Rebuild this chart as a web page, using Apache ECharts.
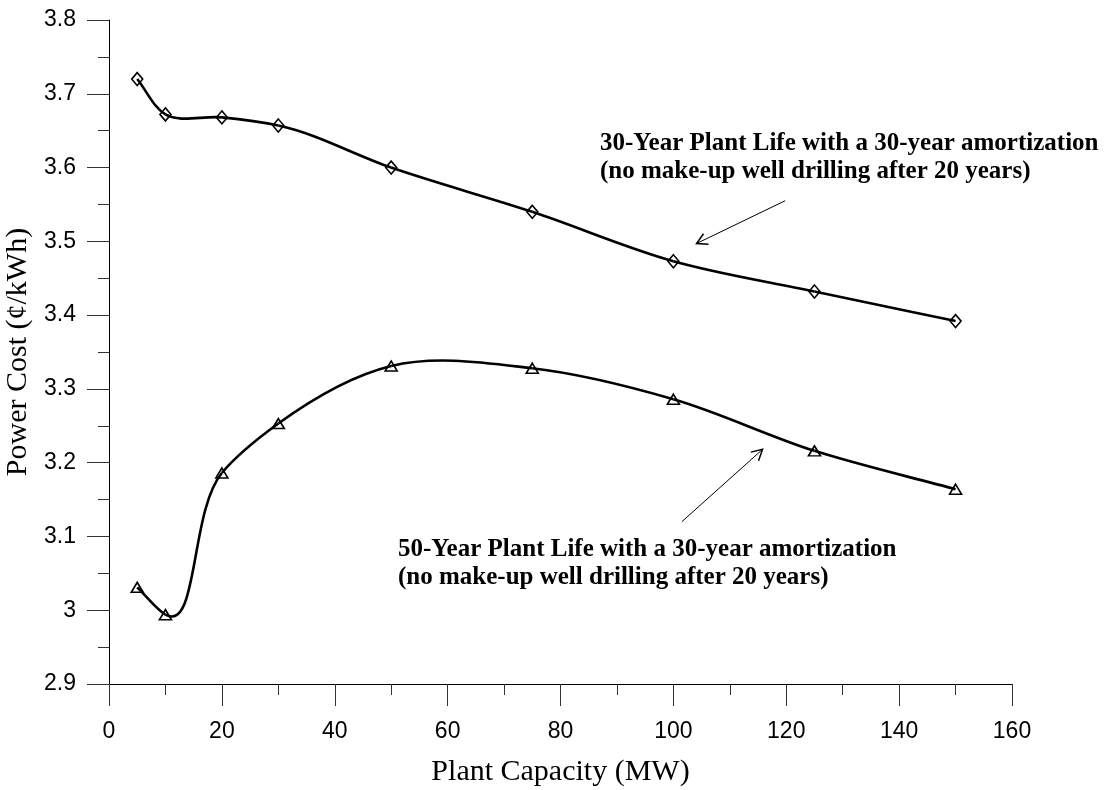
<!DOCTYPE html>
<html>
<head>
<meta charset="utf-8">
<script src="https://cdn.jsdelivr.net/npm/echarts@6/dist/echarts.min.js"></script>
<style>
  html, body { margin: 0; padding: 0; background: #fff; }
  #chart { width: 1104px; height: 790px; }
</style>
</head>
<body>
<div id="chart"></div>
<script>
// plant capacity (MW)
const capacity = [5, 10, 20, 30, 50, 75, 100, 125, 150];
// power cost (cents/kWh)
const life30 = [3.720, 3.672, 3.668, 3.657, 3.600, 3.540, 3.473, 3.432, 3.392];
const life50 = [3.031, 2.994, 3.186, 3.253, 3.331, 3.328, 3.286, 3.216, 3.164];

const label30 = ['30-Year Plant Life with a 30-year amortization', '(no make-up well drilling after 20 years)'];
const label50 = ['50-Year Plant Life with a 30-year amortization', '(no make-up well drilling after 20 years)'];

// arrows in data units: [from, to]
const arrow30 = [[119.8, 3.555], [104.1, 3.497]];
const arrow50 = [[101.5, 3.120], [115.8, 3.218]];

let chart = echarts.init(document.getElementById('chart'));

function pairs(xs, ys) {
    let out = [];
    for (let i = 0; i < xs.length; i++) out.push([xs[i], ys[i]]);
    return out;
}

// spreadsheet-style smoothed line: chord-length catmull-rom,
// one cubic bezier per segment, computed in pixels
function tangentAt(pts, i) {
    let n = pts.length;
    let seg = (a, b) => {
        let dx = b[0] - a[0], dy = b[1] - a[1];
        let d = Math.sqrt(dx * dx + dy * dy) || 1;
        return { u: [dx / d, dy / d], d: d };
    };
    if (i === 0) return seg(pts[0], pts[1]).u;
    if (i === n - 1) return seg(pts[n - 2], pts[n - 1]).u;
    let a = seg(pts[i - 1], pts[i]), b = seg(pts[i], pts[i + 1]);
    return [(b.d * a.u[0] + a.d * b.u[0]) / (a.d + b.d),
            (b.d * a.u[1] + a.d * b.u[1]) / (a.d + b.d)];
}

function splineItem(ys) {
    return function (params, api) {
        let i = params.dataIndex;
        if (i >= capacity.length - 1) return null;
        let pts = capacity.map((x, k) => api.coord([x, ys[k]]));
        let p1 = pts[i], p2 = pts[i + 1];
        let d = Math.sqrt((p2[0] - p1[0]) ** 2 + (p2[1] - p1[1]) ** 2);
        let m1 = tangentAt(pts, i), m2 = tangentAt(pts, i + 1);
        return {
            type: 'bezierCurve',
            shape: {
                x1: p1[0], y1: p1[1],
                cpx1: p1[0] + m1[0] * d / 3, cpy1: p1[1] + m1[1] * d / 3,
                cpx2: p2[0] - m2[0] * d / 3, cpy2: p2[1] - m2[1] * d / 3,
                x2: p2[0], y2: p2[1]
            },
            style: { stroke: '#000', lineWidth: 2.6, fill: null },
            silent: true
        };
    };
}

function markers(name, ys, symbol, size) {
    return {
        name: name,
        type: 'line',
        data: pairs(capacity, ys),
        z: 4,
        symbol: symbol,
        symbolSize: size,
        showSymbol: true,
        lineStyle: { width: 0, opacity: 0 },
        itemStyle: { color: 'transparent', borderColor: '#000', borderWidth: 1.6 }
    };
}

const option = {
    animation: false,
    backgroundColor: '#fff',
    grid: { left: 109, right: 92, top: 20, bottom: 106, outerBoundsMode: 'none' },
    xAxis: {
        type: 'value',
        min: 0, max: 160, interval: 20,
        name: 'Plant Capacity (MW)',
        nameLocation: 'middle',
        nameGap: 73,
        nameTextStyle: { fontFamily: 'Liberation Serif', fontSize: 30, color: '#000' },
        axisLine: { onZero: false, lineStyle: { color: '#000', width: 1 } },
        axisTick: { show: true, inside: false, length: 22, lineStyle: { color: '#333', width: 1 } },
        minorTick: { show: true, splitNumber: 2, length: 11, lineStyle: { color: '#333', width: 1 } },
        axisLabel: { margin: 36, fontFamily: 'Liberation Sans', fontSize: 23, color: '#000' },
        splitLine: { show: false }
    },
    yAxis: {
        type: 'value',
        min: 2.9, max: 3.8, interval: 0.1,
        name: 'Power Cost (¢/kWh)',
        nameLocation: 'middle',
        nameGap: 72,
        nameTextStyle: { fontFamily: 'Liberation Serif', fontSize: 30, color: '#000' },
        axisLine: { show: true, lineStyle: { color: '#000', width: 1 } },
        axisTick: { show: true, inside: false, length: 22, lineStyle: { color: '#333', width: 1 } },
        minorTick: { show: true, splitNumber: 2, length: 11, lineStyle: { color: '#333', width: 1 } },
        axisLabel: {
            margin: 33, fontFamily: 'Liberation Sans', fontSize: 23, color: '#000',
            formatter: v => String(+v.toFixed(2))
        },
        splitLine: { show: false }
    },
    series: [
        { type: 'custom', name: '30-Year curve', data: pairs(capacity, life30), renderItem: splineItem(life30), z: 3 },
        { type: 'custom', name: '50-Year curve', data: pairs(capacity, life50), renderItem: splineItem(life50), z: 3 },
        markers('30-Year', life30, 'diamond', [11, 13]),
        markers('50-Year', life50, 'triangle', [12, 10])
    ]
};
chart.setOption(option);

function arrowShapes(a) {
    let p0 = chart.convertToPixel({ gridIndex: 0 }, a[0]);
    let p1 = chart.convertToPixel({ gridIndex: 0 }, a[1]);
    let ang = Math.atan2(p0[1] - p1[1], p0[0] - p1[0]);
    let len = 12, spread = 0.5;
    let h1 = [p1[0] + len * Math.cos(ang + spread), p1[1] + len * Math.sin(ang + spread)];
    let h2 = [p1[0] + len * Math.cos(ang - spread), p1[1] + len * Math.sin(ang - spread)];
    return [
        { type: 'polyline', shape: { points: [p0, p1] }, style: { stroke: '#000', lineWidth: 1, fill: null }, silent: true },
        { type: 'polyline', shape: { points: [h1, p1, h2] }, style: { stroke: '#000', lineWidth: 1.5, fill: null }, silent: true }
    ];
}

function textBlock(lines, x, y) {
    return {
        type: 'text', left: x, top: y, silent: true,
        style: {
            text: lines.join('\n'),
            font: 'bold 25px "Liberation Serif"',
            lineHeight: 28,
            fill: '#000'
        }
    };
}

chart.setOption({
    graphic: [].concat(
        arrowShapes(arrow30),
        arrowShapes(arrow50),
        [textBlock(label30, 600, 130), textBlock(label50, 398, 536)]
    )
});
</script>
</body>
</html>
